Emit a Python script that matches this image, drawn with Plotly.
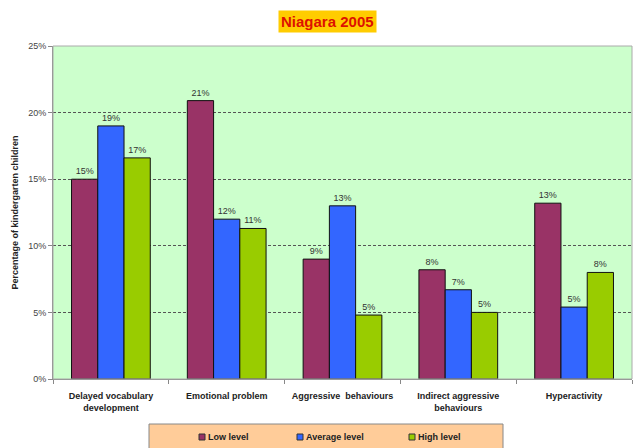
import plotly.graph_objects as go

categories = ["Delayed vocabulary<br>development", "Emotional problem", "Aggressive  behaviours",
              "Indirect aggressive<br>behaviours", "Hyperactivity"]
low_level = [15.0, 20.9, 9.0, 8.2, 13.2]
avg_level = [19.0, 12.0, 13.0, 6.7, 5.4]
high_level = [16.6, 11.3, 4.8, 5.0, 8.0]
series_names = ["Low level", "Average level", "High level"]
colors = ["#993366", "#3366FF", "#99CC00"]

W, H = 637, 448
ML, MR, MT, MB = 53, 5, 46, 69
PW, PH = W - ML - MR, H - MT - MB


def px(x):
    return (x - ML) / PW


def py(y):
    return (H - MB - y) / PH


fig = go.Figure()
for name, vals, col in zip(series_names, [low_level, avg_level, high_level], colors):
    fig.add_trace(go.Bar(
        x=categories, y=vals, name=name,
        marker=dict(color=col, line=dict(color="#111111", width=1)),
        text=[f"{round(v)}%" for v in vals], textposition="outside",
        textfont=dict(size=9, color="#333333", family="Liberation Sans, Arial"),
        cliponaxis=False, showlegend=False,
    ))

shapes = [dict(type="rect", xref="paper", yref="paper", x0=0, x1=1, y0=0, y1=1,
               line=dict(color="#AAAAAA", width=1), layer="above")]
annotations = [dict(text="<b>Niagara 2005</b>", x=px(327), xref="paper", y=py(21.5), yref="paper",
                    xanchor="center", yanchor="middle", showarrow=False,
                    font=dict(size=15, color="#DD1100", family="Liberation Sans, Arial"),
                    bgcolor="#FFCC00", borderpad=2)]

# legend box (drawn manually)
shapes.append(dict(type="rect", xref="paper", yref="paper", x0=px(149), x1=px(503),
                   y0=py(452), y1=py(424), fillcolor="#FFCC99",
                   line=dict(color="#888888", width=1), layer="below"))
legend_x = [202, 300, 412]
for name, col, lx in zip(series_names, colors, legend_x):
    shapes.append(dict(type="rect", xref="paper", yref="paper", x0=px(lx - 3), x1=px(lx + 3),
                       y0=py(440), y1=py(434), fillcolor=col,
                       line=dict(color="#333333", width=1)))
    annotations.append(dict(text=f"<b>{name}</b>", x=px(lx + 4), y=py(437), xref="paper", yref="paper",
                            xanchor="left", yanchor="middle", showarrow=False,
                            font=dict(size=9, color="#222222", family="Liberation Sans, Arial")))

fig.update_layout(
    width=W, height=H,
    margin=dict(l=ML, r=MR, t=MT, b=MB),
    paper_bgcolor="white", plot_bgcolor="#CCFFCC",
    barmode="group", bargap=0.32, bargroupgap=0,
    font=dict(family="Liberation Sans, Arial", size=9, color="#222222"),
    showlegend=False,
    shapes=shapes, annotations=annotations,
)
fig.update_yaxes(range=[0, 25], dtick=5, ticksuffix="%", showgrid=True,
                 gridcolor="#555555", griddash="3px,2px", gridwidth=1,
                 showline=True, linecolor="#888888", ticks="outside", ticklen=4,
                 tickcolor="#888888", tickfont=dict(size=9, color="#444444"),
                 zeroline=False, automargin=False,
                 title=dict(text="<b>Percentage of kindergarten children</b>",
                            font=dict(size=9, color="#222222"), standoff=8))
fig.update_xaxes(showline=True, linecolor="#888888", ticks="outside", tickson="boundaries",
                 ticklen=4, tickcolor="#888888", automargin=False, ticklabelstandoff=8,
                 tickfont=dict(size=9, color="#222222"),
                 ticktext=[f"<b>{c}</b>" for c in categories], tickvals=categories)

fig.write_html("out.html")
